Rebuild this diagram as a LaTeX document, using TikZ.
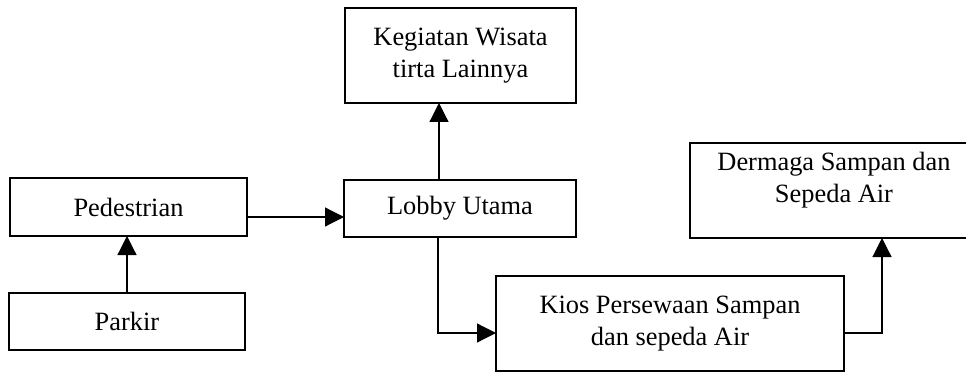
\documentclass[tikz,border=0pt]{standalone}
\usepackage{fontspec}
\setmainfont{Liberation Serif}
\usetikzlibrary{arrows.meta}
\begin{document}
\begin{tikzpicture}[x=1pt,y=-1pt,
  box/.style={draw,line width=1.2pt,inner sep=0pt,outer sep=0pt,align=center,font=\fontsize{26.4}{32}\selectfont},
  txt/.style={inner sep=0pt,align=center,font=\fontsize{26.4}{32}\selectfont},
  arr/.style={line width=1.2pt,-{Triangle[length=19pt,width=19pt]}}]
\useasboundingbox (0,0) rectangle (966,374);
\node[box,minimum width=231pt,minimum height=95pt] (keg) at (460.5,55.5) {Kegiatan Wisata\\tirta Lainnya};
\node[box,minimum width=237pt,minimum height=58pt] (ped) at (128.5,207) {Pedestrian};
\node[box,minimum width=232pt,minimum height=57pt] (lob) at (460,208.5) {Lobby Utama};
\node[box,minimum width=236pt,minimum height=57pt] (park) at (127,321.5) {Parkir};
\node[box,minimum width=348pt,minimum height=95pt] (kios) at (670,323.5) {Kios Persewaan Sampan\\dan sepeda Air};
\node[box,minimum width=288pt,minimum height=95pt] (derm) at (834,190.5) {};
\node[txt] (dermt) at (834,180) {Dermaga Sampan dan\\Sepeda Air};
\draw[arr] (park.north) -- (park.north |- ped.south);
\coordinate (a1) at ([yshift=-10pt]ped.east);
\draw[arr] (a1) -- (a1 -| lob.west);
\coordinate (a2) at ([xshift=-21pt]lob.north);
\draw[arr] (a2) -- (a2 |- keg.south);
\coordinate (a3) at ([xshift=-22pt]lob.south);
\coordinate (a4) at ([yshift=-9.5pt]kios.west);
\draw[arr] (a3) |- (a4);
\coordinate (a5) at ([yshift=-9.5pt]kios.east);
\coordinate (a6) at ([xshift=48pt]derm.south);
\draw[arr] (a5) -| (a6);
\end{tikzpicture}
\end{document}
